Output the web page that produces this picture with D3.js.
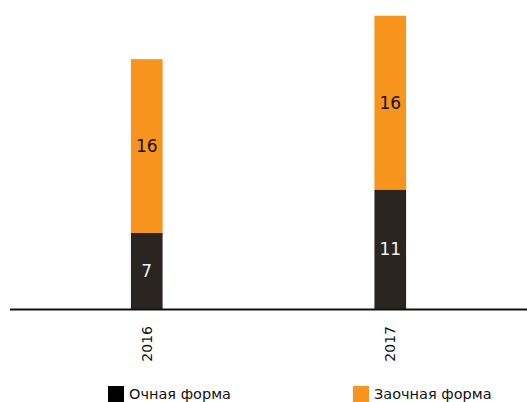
<!DOCTYPE html>
<html><head><meta charset="utf-8">
<script src="https://cdn.jsdelivr.net/npm/d3@7"></script>
<style>body{margin:0;background:#fff}svg{display:block}text{font-family:"DejaVu Sans",sans-serif}</style>
</head><body>
<svg id="c" width="527" height="402"></svg>
<script>
const categories = ["2016", "2017"];
const seriesNames = ["Очная форма", "Заочная форма"];
const ochnaya = [7, 11];
const zaochnaya = [16, 16];
const colors = ["#2a2521", "#f7941d"];
const labelColors = ["#f2f2f2", "#111"];

const svg = d3.select("#c");
const baseY = 309;
const x = d3.scaleBand().domain(categories).range([25, 512]).paddingInner(0.87).paddingOuter(0.435);
const y = d3.scaleLinear().domain([0, 27]).range([baseY, 15.7]);

const data = categories.map((c, i) => ({cat: c, ochnaya: ochnaya[i], zaochnaya: zaochnaya[i]}));
const stack = d3.stack().keys(["ochnaya", "zaochnaya"])(data);

const g = svg.append("g");
stack.forEach((layer, li) => {
  g.selectAll(null).data(layer).enter().append("rect")
    .attr("x", d => x(d.data.cat))
    .attr("width", x.bandwidth())
    .attr("y", d => y(d[1]))
    .attr("height", d => y(d[0]) - y(d[1]))
    .attr("fill", colors[li]);
  g.selectAll(null).data(layer).enter().append("text")
    .attr("x", d => x(d.data.cat) + x.bandwidth() / 2)
    .attr("y", d => (y(d[0]) + y(d[1])) / 2)
    .attr("dy", "0.36em")
    .attr("text-anchor", "middle")
    .attr("font-size", 17)
    .attr("fill", labelColors[li])
    .text(d => d[1] - d[0]);
});

const axis = d3.axisBottom(x).tickSize(0).tickPadding(0);
const ax = svg.append("g").attr("transform", `translate(0,${baseY})`).call(axis);
ax.select(".domain").remove();
ax.selectAll(".tick text")
  .attr("transform", "rotate(-90)")
  .attr("text-anchor", "end")
  .attr("x", -17)
  .attr("y", 0)
  .attr("dy", "0.36em")
  .attr("font-size", 14)
  .attr("font-family", "DejaVu Sans")
  .attr("fill", "#111");
svg.append("line").attr("x1", 10).attr("x2", 527).attr("y1", baseY + 0.5).attr("y2", baseY + 0.5)
  .attr("stroke", "#111").attr("stroke-width", 2);

const legX = [108, 353];
const leg = svg.selectAll(".leg").data(seriesNames).enter().append("g")
  .attr("transform", (d, i) => `translate(${legX[i]},386)`);
leg.append("rect").attr("width", 16).attr("height", 16).attr("fill", (d, i) => i === 0 ? "#000" : colors[1]);
leg.append("text").attr("x", 21).attr("y", 8).attr("dy", "0.36em").attr("font-size", 14.5).attr("fill", "#111").text(d => d);
</script>
</body></html>
